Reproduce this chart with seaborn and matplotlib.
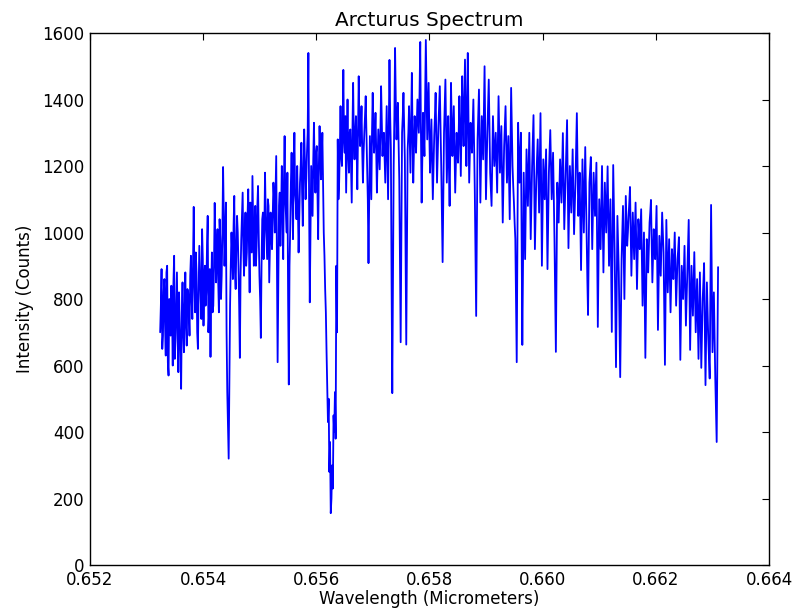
import numpy as np
import pandas as pd
import matplotlib
matplotlib.use("Agg")
import matplotlib.pyplot as plt
import seaborn as sns

# ---- data ----
wl_start = 0.65324   # micrometers, first sample
wl_end = 0.66310     # micrometers, last sample

# samples on the main grid
intensity = [
    700, 890, 690, 860, 630, 900, 570, 760, 840, 600, 930, 680, 880, 580, 720, 530, 850, 640, 880, 660,
    820, 690, 930, 740, 1077, 760, 880, 650, 960, 800, 1010, 720, 900, 820, 1050, 760, 626, 940, 780, 1089,
    850, 1010, 760, 980, 870, 1197, 900, 1090, 520, 320, 780, 1000, 860, 1110, 830, 1050, 900, 623, 980, 1120,
    870, 1060, 940, 1130, 820, 1010, 1170, 900, 1080, 960, 1140, 870, 683, 1040, 920, 1180, 980, 1100, 850, 1060,
    950, 1150, 1000, 1230, 610, 1080, 960, 1200, 920, 1290, 1050, 1180, 543, 1010, 1240, 980, 1300, 1090, 1200, 940,
    1150, 1270, 1020, 1310, 1100, 1240, 1540, 790, 1200, 1050, 1330, 1120, 1260, 980, 1320, 1160, 1300, 1000, 830, 640,
    430, 280, 156, 300, 450, 520, 900, 1280, 1150, 1380, 1200, 1489, 1240, 1120, 1400, 1180, 1310, 1090, 1450, 1220,
    1350, 1130, 1470, 1260, 1380, 1150, 1300, 1410, 1200, 908, 1290, 1100, 1420, 1240, 1360, 1120, 1310, 1190, 1440, 1230,
    1300, 1150, 1380, 1100, 1519, 1250, 517, 1200, 1555, 1280, 1390, 1160, 670, 1300, 1420, 1220, 663, 1250, 1380, 1180,
    1480, 1150, 1350, 1240, 1400, 1300, 1573, 1090, 1360, 1230, 1579, 1280, 1450, 1180, 1340, 1100, 1290, 1420, 1150, 1320,
    1440, 1200, 911, 1300, 1460, 1150, 1350, 1080, 1450, 1230, 1380, 1120, 1300, 1210, 1410, 1170, 1470, 1260, 1520, 1200,
    1540, 1150, 1330, 1240, 1400, 1130, 749, 1280, 1430, 1090, 1350, 1220, 1500, 1100, 1300, 1460, 1180, 1080, 1350, 1200,
    1300, 1120, 1410, 1180, 1320, 1030, 1260, 1380, 1150, 1290, 1040, 1435, 1200, 1090, 980, 610, 1330, 1150, 1300, 662,
    1180, 920, 1250, 1080, 1300, 980, 1200, 1353, 950, 1160, 1280, 1060, 1359, 900, 1220, 1100, 1250, 890, 1180, 1308,
    1100, 1240, 980, 641, 1150, 1030, 1220, 1090, 1299, 1010, 1180, 1338, 953, 1200, 1060, 1250, 995, 1150, 1359, 1050,
    1180, 887, 1220, 1000, 1257, 980, 752, 1150, 1227, 950, 1180, 1050, 1210, 716, 1100, 950, 1200, 880, 1150, 1000,
    1199, 900, 1100, 701, 1203, 950, 595, 1050, 880, 565, 920, 1080, 800, 1110, 960, 1050, 1137, 870, 1060, 920,
    1090, 830, 1040, 950, 1070, 780, 1000, 623, 980, 880, 1030, 1098, 850, 1010, 920, 1080, 707, 990, 870, 1060,
    940, 602, 1038, 820, 980, 760, 950, 860, 1000, 780, 920, 986, 617, 900, 800, 960, 720, 880, 1038, 647,
    900, 750, 941, 700, 860, 620, 880, 593, 800, 908, 541, 850, 680, 561, 1083, 640, 820, 560, 370, 896,
]

# samples lying halfway between the main-grid samples
intensity_between = [
    780, 650, 820, 720, 880, 610, 800, 690, 760, 850, 620, 780, 700, 820, 640, 760, 700, 780, 720, 830,
    760, 870, 800, 900, 850, 940, 700, 820, 880, 740, 920, 850, 780, 960, 700, 890, 820, 760, 900, 950,
    940, 860, 1040, 800, 1000, 1050, 980, 700, 420, 560, 900, 940, 1020, 880, 960, 1000, 780, 870, 1050, 950,
    980, 900, 1050, 960, 1090, 940, 1040, 1000, 900, 1080, 990, 800, 900, 1060, 1000, 1050, 920, 1080, 960, 1000,
    1050, 1100, 1120, 900, 850, 1120, 1060, 1080, 1150, 1100, 1000, 800, 900, 1150, 1100, 1180, 1120, 1040, 1080, 1050,
    1200, 1120, 1180, 1220, 1160, 1300, 1100, 1000, 1120, 1220, 1180, 1240, 1120, 1200, 1230, 1220, 1150, 930, 760, 540,
    500, 370, 200, 230, 400, 380, 700, 1100, 1250, 1230, 1300, 1280, 1350, 1250, 1240, 1300, 1200, 1300, 1280, 1300,
    1250, 1300, 1330, 1300, 1250, 1240, 1350, 1300, 1100, 1100, 1200, 1300, 1300, 1290, 1250, 1220, 1250, 1300, 1330, 1280,
    1230, 1260, 1240, 1300, 1350, 850, 880, 1350, 1400, 1330, 1280, 900, 1000, 1350, 1320, 920, 950, 1300, 1280, 1330,
    1300, 1250, 1300, 1320, 1350, 1420, 1300, 1220, 1300, 1400, 1420, 1360, 1300, 1260, 1220, 1200, 1350, 1280, 1240, 1380,
    1320, 1050, 1100, 1380, 1300, 1250, 1200, 1260, 1330, 1300, 1250, 1210, 1260, 1300, 1290, 1320, 1350, 1390, 1360, 1350,
    1330, 1240, 1290, 1320, 1260, 940, 1000, 1350, 1250, 1220, 1280, 1350, 1300, 1200, 1380, 1320, 1130, 1220, 1280, 1250,
    1210, 1260, 1300, 1250, 1180, 1140, 1320, 1260, 1220, 1160, 1240, 1320, 1140, 1030, 800, 970, 1240, 1220, 980, 900,
    1050, 1090, 1160, 1190, 1140, 1090, 1280, 1150, 1060, 1220, 1170, 1210, 1130, 1060, 1160, 1170, 1070, 1030, 1240, 1200,
    1170, 1110, 810, 900, 1090, 1120, 1150, 1190, 1150, 1090, 1260, 1140, 1080, 1130, 1150, 1120, 1070, 1250, 1200, 1110,
    1030, 1050, 1110, 1130, 1120, 860, 950, 1190, 1090, 1060, 1110, 1130, 960, 910, 1020, 1080, 1040, 1010, 1070, 1100,
    1050, 1000, 900, 950, 1080, 770, 820, 960, 720, 740, 1000, 940, 950, 1030, 1000, 1090, 1000, 960, 990, 1000,
    960, 940, 1000, 1010, 930, 890, 810, 800, 930, 950, 1060, 970, 930, 960, 1000, 890, 850, 930, 960, 1000,
    770, 820, 920, 900, 870, 850, 910, 930, 890, 850, 950, 800, 760, 850, 880, 840, 800, 960, 840, 780,
    820, 850, 820, 780, 740, 750, 740, 700, 850, 720, 700, 760, 620, 820, 860, 730, 690, 470, 630,
]

x_ticks = [0.652, 0.654, 0.656, 0.658, 0.660, 0.662, 0.664]
x_tick_labels = ["0.652", "0.654", "0.656", "0.658", "0.660", "0.662", "0.664"]
y_ticks = [0, 200, 400, 600, 800, 1000, 1200, 1400, 1600]
y_tick_labels = ["0", "200", "400", "600", "800", "1000", "1200", "1400", "1600"]

title = "Arcturus Spectrum"
x_label = "Wavelength (Micrometers)"
y_label = "Intensity (Counts)"

# uniform sampling grids of the spectrum
n_main = len(intensity)
half_step = (wl_end - wl_start) / (n_main - 1) / 2.0
wl_main = np.linspace(wl_start, wl_end, n_main)
wl_between = np.linspace(wl_start + half_step, wl_end - half_step, len(intensity_between))

df = pd.DataFrame({
    "wavelength": np.concatenate([wl_main, wl_between]),
    "intensity": np.concatenate([intensity, intensity_between]),
}).sort_values("wavelength").reset_index(drop=True)

# ---- styling ----
sns.set_style("white")
plt.rcParams["font.family"] = ["DejaVu Sans"]
plt.rcParams["font.size"] = 12
plt.rcParams["text.color"] = "black"
plt.rcParams["axes.labelcolor"] = "black"
plt.rcParams["xtick.color"] = "black"
plt.rcParams["ytick.color"] = "black"

fig = plt.figure(figsize=(7.95, 6.09), dpi=100)
ax = fig.add_axes([0.1132, 0.0722, 0.8541, 0.8736])

sns.lineplot(data=df, x="wavelength", y="intensity", ax=ax, color="#0000ff",
             linewidth=1.3, estimator=None, sort=False)

ax.set_xlim(0.652, 0.664)
ax.set_ylim(0, 1600)
ax.set_xticks(x_ticks)
ax.set_xticklabels(x_tick_labels)
ax.set_yticks(y_ticks)
ax.set_yticklabels(y_tick_labels)
ax.tick_params(direction="in", length=5, width=0.8, top=True, right=True,
               labelsize=12, colors="black", pad=4)
for s in ax.spines.values():
    s.set_visible(True)
    s.set_color("black")
    s.set_linewidth(1.0)

ax.set_title(title, fontsize=14.4, pad=5, color="black")
ax.set_xlabel(x_label, fontsize=12, labelpad=1, color="black")
ax.set_ylabel(y_label, fontsize=12, labelpad=6, color="black")

fig.savefig("out.png", dpi=100)
